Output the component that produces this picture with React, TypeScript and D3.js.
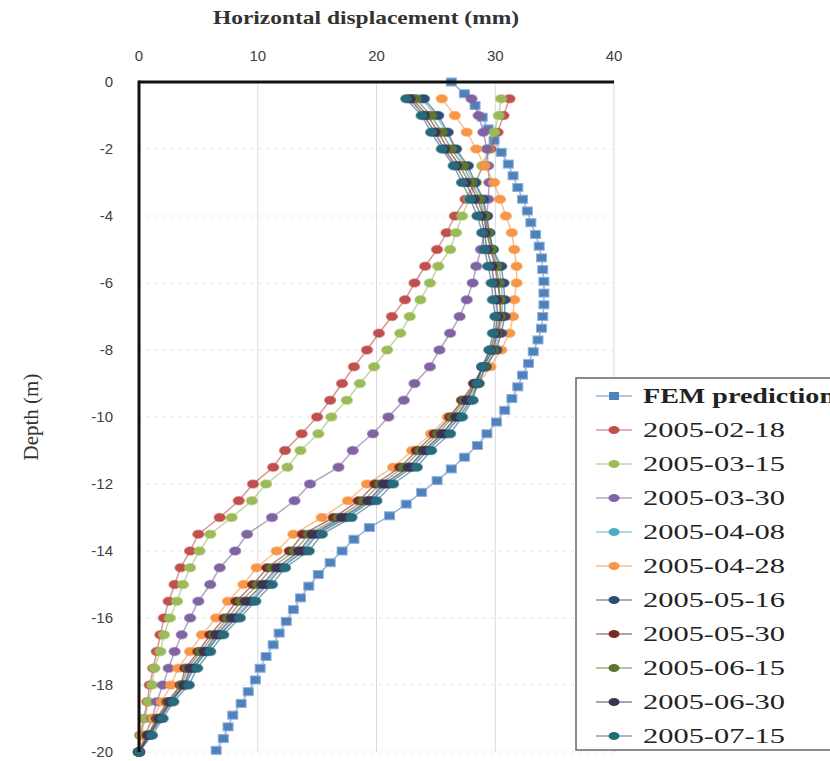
import React from "react";
import * as d3 from "d3";

// ---- data ----
const measuredDepths = [0.5, 1, 1.5, 2, 2.5, 3, 3.5, 4, 4.5, 5, 5.5, 6, 6.5, 7, 7.5, 8, 8.5, 9, 9.5, 10,
  10.5, 11, 11.5, 12, 12.5, 13, 13.5, 14, 14.5, 15, 15.5, 16, 16.5, 17, 17.5, 18, 18.5, 19, 19.5, 20];

const femDepths = [0, 0.35, 0.7, 1.05, 1.4, 1.75, 2.1, 2.45, 2.8, 3.15, 3.5, 3.85, 4.2, 4.55, 4.9, 5.25, 5.6, 5.95,
  6.3, 6.65, 7.0, 7.35, 7.7, 8.05, 8.4, 8.75, 9.1, 9.45, 9.8, 10.15, 10.5, 10.85, 11.2, 11.55, 11.9, 12.25, 12.6,
  12.95, 13.3, 13.65, 14.0, 14.35, 14.7, 15.05, 15.4, 15.75, 16.1, 16.45, 16.8, 17.15, 17.5, 17.85, 18.2, 18.55,
  18.9, 19.25, 19.6, 19.95];
const femValues = [26.3, 27.4, 28.3, 28.9, 29.4, 29.9, 30.5, 31.1, 31.5, 31.9, 32.3, 32.7, 33.0, 33.4, 33.7, 33.9,
  34.0, 34.1, 34.1, 34.1, 34.0, 33.9, 33.6, 33.2, 32.8, 32.3, 31.9, 31.4, 30.8, 30.1, 29.3, 28.5, 27.4, 26.3, 25.1,
  23.8, 22.5, 21.1, 19.4, 18.1, 17.1, 16.1, 15.1, 14.3, 13.6, 13.0, 12.4, 11.8, 11.3, 10.7, 10.2, 9.8, 9.2, 8.6,
  7.9, 7.5, 7.1, 6.5];

const s20050218 = [31.2, 30.7, 30.2, 29.6, 29.0, 28.3, 27.5, 26.6, 25.9, 25.1, 24.1, 23.2, 22.4, 21.3, 20.2, 19.2,
  18.1, 17.1, 16.1, 15.0, 13.7, 12.3, 11.3, 9.6, 8.4, 6.8, 5.0, 4.3, 3.5, 3.0, 2.5, 2.1, 1.8, 1.5, 1.2, 0.9, 0.7, 0.4, 0.1, 0];
const s20050315 = [30.5, 30.3, 29.9, 29.4, 28.9, 28.4, 27.8, 27.2, 26.7, 26.2, 25.2, 24.5, 23.7, 22.8, 22.0, 20.9,
  19.8, 18.6, 17.5, 16.2, 15.1, 13.6, 12.5, 10.7, 9.5, 7.8, 6.0, 5.1, 4.3, 3.7, 3.2, 2.6, 2.1, 1.8, 1.3, 1.1, 0.8, 0.5, 0.2, 0];
const s20050330 = [28.0, 28.6, 29.0, 29.3, 29.4, 29.5, 29.4, 29.3, 29.1, 28.8, 28.4, 28.1, 27.6, 27.0, 26.2, 25.3,
  24.5, 23.2, 22.3, 21.0, 19.7, 18.0, 16.8, 14.4, 13.1, 11.2, 9.1, 8.1, 6.8, 6.0, 5.0, 4.3, 3.6, 3.0, 2.5, 2.0, 1.5, 1.1, 0.5, 0];
const s20050408 = [23.8, 25.0, 25.9, 26.6, 27.5, 28.2, 28.9, 29.2, 29.5, 29.8, 30.3, 30.5, 30.6, 30.6, 30.3, 30.0,
  29.2, 28.5, 27.7, 26.8, 25.6, 24.1, 22.8, 20.8, 19.4, 17.3, 14.8, 13.7, 11.8, 10.6, 9.3, 8.0, 6.7, 5.6, 4.5, 3.8, 2.7, 1.8, 0.9, 0];
const s20050428 = [25.5, 26.6, 27.6, 28.4, 29.1, 29.9, 30.4, 30.9, 31.4, 31.6, 31.8, 31.8, 31.6, 31.5, 31.2, 30.5,
  29.6, 28.6, 27.4, 26.0, 24.6, 23.0, 21.4, 19.2, 17.6, 15.4, 13.0, 11.6, 9.9, 8.8, 7.5, 6.5, 5.3, 4.3, 3.3, 2.7, 1.9, 1.2, 0.5, 0];
const s20050516 = [24.0, 25.2, 26.0, 26.7, 27.7, 28.3, 29.0, 29.3, 29.5, 29.8, 30.5, 30.7, 30.8, 30.8, 30.5, 30.1,
  29.2, 28.6, 27.9, 27.0, 25.8, 24.3, 23.0, 21.0, 19.6, 17.5, 15.0, 13.9, 12.0, 10.8, 9.5, 8.2, 6.8, 5.7, 4.6, 3.9, 2.7, 1.8, 0.9, 0];
const s20050530 = [23.0, 24.3, 25.2, 26.0, 27.0, 27.8, 28.5, 29.0, 29.3, 29.6, 30.0, 30.2, 30.4, 30.5, 30.2, 29.8,
  29.0, 28.2, 27.2, 26.2, 24.9, 23.4, 22.0, 19.9, 18.5, 16.4, 13.8, 12.7, 10.8, 9.6, 8.2, 7.2, 6.0, 5.0, 3.9, 3.5, 2.4, 1.5, 0.7, 0];
const s20050615 = [23.3, 24.6, 25.5, 26.3, 27.3, 28.0, 28.7, 29.1, 29.4, 29.7, 30.1, 30.3, 30.4, 30.4, 30.1, 29.8,
  29.0, 28.3, 27.4, 26.4, 25.2, 23.7, 22.3, 20.3, 18.9, 16.8, 14.3, 13.1, 11.2, 10.0, 8.6, 7.5, 6.3, 5.2, 4.1, 3.6, 2.5, 1.6, 0.8, 0];
const s20050630 = [22.8, 24.0, 24.9, 25.7, 26.7, 27.5, 28.2, 28.8, 29.1, 29.3, 29.7, 29.9, 30.1, 30.2, 30.0, 29.6,
  28.9, 28.3, 27.6, 26.7, 25.5, 24.0, 22.7, 20.6, 19.3, 17.1, 14.6, 13.5, 11.6, 10.4, 9.0, 7.8, 6.5, 5.5, 4.3, 3.8, 2.6, 1.7, 0.8, 0];
const s20050715 = [22.5, 23.8, 24.6, 25.5, 26.5, 27.2, 27.9, 28.5, 28.9, 29.1, 29.4, 29.7, 29.8, 30.0, 29.8, 29.5,
  28.9, 28.5, 28.1, 27.2, 26.2, 24.6, 23.4, 21.4, 20.0, 17.9, 15.4, 14.3, 12.3, 11.2, 9.8, 8.5, 7.1, 6.0, 4.9, 4.2, 2.9, 2.0, 1.1, 0];

const seriesNames = ["FEM prediction", "2005-02-18", "2005-03-15", "2005-03-30", "2005-04-08", "2005-04-28",
  "2005-05-16", "2005-05-30", "2005-06-15", "2005-06-30", "2005-07-15"];
const seriesColors = ["#4F81BD", "#C0504D", "#9BBB59", "#8064A2", "#4BACC6", "#F79646",
  "#2C4D75", "#772C2A", "#5F7530", "#3F3151", "#276A7C"];
const measuredSeries = [s20050218, s20050315, s20050330, s20050408, s20050428, s20050516,
  s20050530, s20050615, s20050630, s20050715];

const xTicks = [0, 10, 20, 30, 40];
const yTicks = [0, 2, 4, 6, 8, 10, 12, 14, 16, 18, 20];

export default function App() {
  const W = 830, H = 761;
  const x = d3.scaleLinear().domain([0, 40]).range([139, 614]);
  const y = d3.scaleLinear().domain([0, 20]).range([82, 752]);
  const line = d3.line<[number, number]>().x((d) => x(d[1])).y((d) => y(d[0]));

  const fem: [number, number][] = femDepths.map((d, i) => [d, femValues[i]]);
  const measured = measuredSeries.map((vals) => measuredDepths.map((d, i) => [d, vals[i]] as [number, number]));

  const legendX = 576, legendY = 378;
  const serif = "'Liberation Serif', 'Times New Roman', serif";
  const sans = "'Liberation Sans', Arial, sans-serif";

  return (
    <svg width={W} height={H} style={{ position: "absolute", left: 0, top: 0, background: "#fff" }}>
      <rect x={0} y={0} width={W} height={H} fill="#fff" />
      {/* title */}
      <text x={366} y={24} textAnchor="middle" fontFamily={serif} fontWeight="bold" fontSize={19}
        fill="#333" textLength={306} lengthAdjust="spacingAndGlyphs">Horizontal displacement (mm)</text>
      {/* y title */}
      <text transform={`translate(38,417) rotate(-90)`} textAnchor="middle" fontFamily={serif} fontSize={21}
        fill="#333">Depth (m)</text>

      {/* grid */}
      {xTicks.slice(1).map((t) => (
        <line key={"gx" + t} x1={x(t)} x2={x(t)} y1={y(0)} y2={y(20)} stroke="#d9d9d9" strokeWidth={1} />
      ))}
      {yTicks.slice(1).map((t) => (
        <line key={"gy" + t} x1={x(0)} x2={x(40)} y1={y(t)} y2={y(t)} stroke="#e4e4e4" strokeWidth={1}
          strokeDasharray="3,5" />
      ))}

      {/* tick labels */}
      {xTicks.map((t) => (
        <text key={"xt" + t} x={x(t)} y={61} textAnchor="middle" fontFamily={sans} fontSize={15} fill="#404040">{t}</text>
      ))}
      {yTicks.map((t) => (
        <text key={"yt" + t} x={113} y={y(t) + 5} textAnchor="end" fontFamily={sans} fontSize={15} fill="#404040">
          {t === 0 ? "0" : "-" + t}
        </text>
      ))}

      {/* series */}
      <g>
        <path d={line(fem) || ""} fill="none" stroke={seriesColors[0]} strokeOpacity={0.6} strokeWidth={1.5} />
        {fem.map((p, i) => (
          <rect key={"f" + i} x={x(p[1]) - 5} y={y(p[0]) - 4} width={10} height={8} fill={seriesColors[0]}
            stroke="#8fb0da" strokeWidth={1} />
        ))}
      </g>
      {measured.map((pts, si) => (
        <g key={"s" + si}>
          <path d={line(pts) || ""} fill="none" stroke={seriesColors[si + 1]} strokeOpacity={0.6} strokeWidth={1.5} />
          {pts.map((p, i) => (
            <ellipse key={i} cx={x(p[1])} cy={y(p[0])} rx={5.5} ry={4} fill={seriesColors[si + 1]}
              stroke={seriesColors[si + 1]} strokeOpacity={0.5} strokeWidth={1.5} />
          ))}
        </g>
      ))}

      {/* axes */}
      <line x1={x(0)} x2={x(40)} y1={y(0)} y2={y(0)} stroke="#111" strokeWidth={3} />
      <line x1={x(0)} x2={x(0)} y1={y(0) - 1.5} y2={y(20)} stroke="#111" strokeWidth={3} />

      {/* legend */}
      <rect x={legendX} y={legendY} width={270} height={372} fill="#fff" stroke="#666" strokeWidth={1.5} />
      {seriesNames.map((name, i) => {
        const cy = 396 + i * 34;
        return (
          <g key={"lg" + i}>
            <line x1={596} x2={632} y1={cy} y2={cy} stroke={seriesColors[i]} strokeOpacity={0.6} strokeWidth={1.5} />
            {i === 0 ? (
              <rect x={609} y={cy - 4} width={10} height={8} fill={seriesColors[i]} />
            ) : (
              <ellipse cx={614} cy={cy} rx={5.5} ry={4} fill={seriesColors[i]} />
            )}
            <text x={643} y={cy + 7} fontFamily={serif} fontSize={20} fill="#222"
              fontWeight={i === 0 ? "bold" : "normal"}
              textLength={i === 0 ? 192 : 142} lengthAdjust="spacingAndGlyphs">{name}</text>
          </g>
        );
      })}
    </svg>
  );
}
